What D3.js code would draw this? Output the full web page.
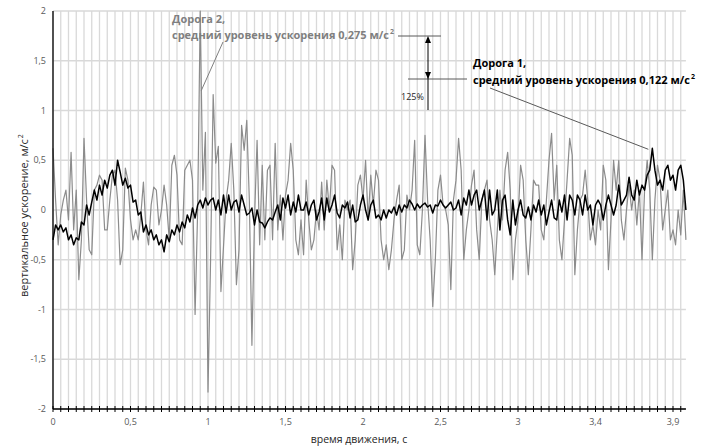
<!DOCTYPE html>
<html>
<head>
<meta charset="utf-8">
<script src="https://cdn.jsdelivr.net/npm/d3@7"></script>
<style>
  body { margin: 0; background: #fff; }
  text { font-family: "Open Sans", sans-serif; }
</style>
</head>
<body>
<svg width="702" height="447"></svg>
<script>
// x axis category labels (one every 30 samples), y ticks
const xLabels = ["0", "0,5", "1", "1,5", "2", "2,5", "3", "3,4", "3,9"];
const yTicks = [-2, -1.5, -1, -0.5, 0, 0.5, 1, 1.5, 2];

// Дорога 1 (black)
const road1 = [
  -0.3, -0.15, -0.2, -0.15, -0.22, -0.18, -0.3, -0.25, -0.35, -0.28,
  -0.3, -0.12, -0.15, 0.05, -0.05, 0.08, 0.2, 0.1, 0.25, 0.15,
  0.3, 0.22, 0.35, 0.4, 0.25, 0.5, 0.38, 0.25, 0.32, 0.22,
  0.25, 0.08, 0.1, -0.05, -0.02, -0.22, -0.15, -0.25, -0.2, -0.3,
  -0.25, -0.35, -0.3, -0.42, -0.25, -0.32, -0.2, -0.25, -0.15, -0.22,
  -0.12, -0.18, -0.05, -0.12, 0.02, -0.08, 0.05, 0.1, 0.02, 0.12,
  0.05, 0.1, 0.12, 0.0, 0.1, -0.05, 0.15, -0.03, 0.15, 0.0,
  0.08, 0.1, -0.02, 0.15, 0.05, -0.05, -0.03, 0.02, -0.15, 0.0,
  -0.12, -0.13, -0.18, -0.12, -0.08, -0.1, -0.02, 0.05, -0.1, 0.12,
  0.02, 0.15, -0.05, 0.08, -0.02, 0.15, 0.0, 0.0, 0.08, -0.05,
  0.05, 0.1, -0.1, -0.02, 0.12, -0.1, 0.12, -0.02, 0.05, 0.15,
  -0.03, -0.08, 0.05, 0.02, 0.08, -0.08, 0.05, -0.12, -0.1, 0.05,
  0.15, 0.0, -0.1, 0.05, 0.1, -0.08, -0.05, -0.1, 0.0, -0.08,
  0.0, -0.03, 0.03, -0.05, 0.05, -0.02, 0.05, 0.02, 0.1, 0.06,
  0.0, 0.06, 0.02, 0.05, 0.07, 0.03, 0.05, -0.03, 0.05, 0.04,
  0.1, 0.05, 0.02, 0.05, 0.08, 0.0, 0.02, 0.1, -0.05, 0.12,
  0.05, 0.2, 0.05, 0.15, 0.2, 0.0, 0.1, 0.2, -0.1, 0.2,
  -0.05, 0.0, 0.2, -0.2, 0.1, 0.15, -0.1, -0.25, 0.1, -0.15,
  0.0, 0.1, -0.05, -0.08, 0.03, -0.1, 0.05, -0.02, 0.1, -0.05,
  0.05, -0.15, -0.02, 0.1, -0.08, -0.1, 0.1, -0.02, 0.15, -0.1,
  0.15, 0.1, -0.05, 0.15, 0.1, -0.05, 0.15, 0.0, 0.05, -0.15,
  0.05, 0.1, 0.05, -0.1, 0.05, 0.15, 0.05, -0.05, 0.05, 0.25,
  0.05, 0.1, 0.15, 0.33, 0.15, 0.1, 0.3, 0.15, 0.25, 0.2,
  0.35, 0.4, 0.62, 0.4, 0.25, 0.3, 0.2, 0.4, 0.45, 0.3,
  0.35, 0.2, 0.4, 0.45, 0.3, 0.0
];

// Дорога 2 (grey)
const road2 = [
  0.62, 0.1, -0.35, -0.05, 0.1, 0.2, -0.1, 0.58, -0.2, 0.2,
  -0.7, -0.3, 0.72, 0.1, -0.4, -0.45, 0.2, 0.25, 0.35, 0.3,
  -0.2, -0.2, 0.1, 0.35, 0.4, 0.1, -0.55, -0.4, 0.42, 0.3,
  -0.1, -0.3, -0.2, -0.3, -0.05, 0.28, -0.2, -0.35, 0.05, 0.23,
  0.2, -0.15, 0.0, 0.25, 0.05, -0.3, 0.45, 0.55, 0.35, -0.3,
  -0.35, 0.4, 0.45, 0.5, 0.3, -1.05, 0.0, 2.0, 0.2, 0.78,
  -1.83, -0.5, 1.16, 0.47, 0.64, -0.82, -0.37, 0.1, 0.3, 0.67,
  0.2, -0.75, -0.4, 0.85, 0.6, 0.9, 0.1, -1.36, -0.1, 0.7,
  -0.35, 0.45, -0.3, 0.4, 0.45, -0.3, 0.67, -0.2, 0.15, -0.3,
  0.15, 0.3, 0.67, 0.4, -0.3, -0.45, -0.1, -0.45, 0.3, -0.1,
  -0.4, -0.3, 0.0, -0.2, 0.28, -0.2, 0.3, 0.0, 0.45, 0.4,
  -0.4, -0.15, -0.5, 0.1, 0.0, 0.1, -0.6, -0.3, 0.25, 0.35,
  0.1, 0.5, -0.1, 0.35, 0.05, 0.4, 0.3, -0.3, -0.5, -0.35,
  -0.6, -0.4, -0.1, 0.1, 0.25, -0.5, -0.4, 0.15, 0.0, 0.2,
  0.7, -0.35, -0.45, 0.0, 0.75, 0.1, -0.3, -0.97, -0.5, 0.2,
  0.35, 0.05, 0.0, -0.15, -0.8, 0.1, 0.3, 0.72, 0.4, -0.5,
  -0.2, 0.0, 0.25, 0.4, -0.2, -0.5, 0.1, 0.2, 0.3, -0.1,
  -0.3, -0.65, -0.2, 0.2, -0.1, 0.4, 0.58, 0.2, -0.7, -0.3,
  -0.1, 0.45, 0.3, -0.3, -0.65, -0.2, 0.3, 0.25, 0.25, -0.2,
  -0.3, 0.1, 0.5, 0.77, 0.1, 0.45, -0.3, -0.5, -0.1, 0.3,
  0.72, 0.55, -0.65, -0.2, 0.1, 0.15, 0.4, 0.1, -0.3, -0.15,
  -0.35, 0.0, -0.2, 0.45, 0.3, -0.6, -0.1, 0.5, 0.2, 0.5,
  -0.1, -0.3, 0.0, 0.25, 0.0, 0.2, -0.15, 0.2, -0.5, 0.2,
  0.5, 0.2, -0.5, 0.1, 0.45, 0.3, -0.2, 0.0, 0.2, -0.3,
  -0.2, -0.35, 0.0, -0.25, 0.2, -0.3
];

const svg = d3.select("svg");
const n = road1.length;

// sample index -> px, label every 30 samples, gridline every 3
const x = d3.scaleLinear().domain([0, 240]).range([53, 673]);
const y = d3.scaleLinear().domain([-2, 2]).range([409, 11]);
const xEnd = x(n - 1);

const gridIdx = d3.range(0, n, 3);

// grid
svg.append("g").selectAll("line").data(gridIdx).enter().append("line")
  .attr("x1", d => x(d)).attr("x2", d => x(d))
  .attr("y1", y(2)).attr("y2", y(-2))
  .attr("stroke", "#d9d9d9").attr("stroke-width", 1.3);

svg.append("g").selectAll("line").data(yTicks).enter().append("line")
  .attr("x1", x(0)).attr("x2", xEnd)
  .attr("y1", d => y(d)).attr("y2", d => y(d))
  .attr("stroke", "#d9d9d9").attr("stroke-width", 1.3);

// series
const line = d3.line().x((d, i) => x(i)).y(d => y(d));
svg.append("path").datum(road2).attr("d", line)
  .attr("fill", "none").attr("stroke", "#8c8c8c").attr("stroke-width", 1.2)
  .attr("stroke-linejoin", "round");
svg.append("path").datum(road1).attr("d", line)
  .attr("fill", "none").attr("stroke", "#000").attr("stroke-width", 1.5)
  .attr("stroke-linejoin", "round");

// axes
svg.append("line").attr("x1", x(0)).attr("x2", x(0)).attr("y1", y(2)).attr("y2", y(-2))
  .attr("stroke", "#000").attr("stroke-width", 1.3);
svg.append("line").attr("x1", x(0)).attr("x2", xEnd).attr("y1", y(-2)).attr("y2", y(-2))
  .attr("stroke", "#000").attr("stroke-width", 1.3);
svg.append("g").selectAll("line").data(gridIdx).enter().append("line")
  .attr("x1", d => x(d)).attr("x2", d => x(d))
  .attr("y1", y(-2) - 3).attr("y2", y(-2) + 3)
  .attr("stroke", "#000").attr("stroke-width", 1);

svg.append("g").selectAll("text").data(yTicks).enter().append("text")
  .attr("x", 46).attr("y", d => y(d) + 3)
  .attr("text-anchor", "end").attr("font-size", 9).attr("fill", "#595959")
  .text(d => String(d).replace(".", ","));

svg.append("g").selectAll("text").data(xLabels).enter().append("text")
  .attr("x", (d, i) => x(i * 30)).attr("y", 425)
  .attr("text-anchor", "middle").attr("font-size", 9).attr("fill", "#595959")
  .text(d => d);

// text + superscript "2" placed right after it
function withSup(g, tx, ty, str, supSize) {
  const t = g.append("text").attr("x", tx).attr("y", ty).text(str);
  const w = t.node().getComputedTextLength();
  g.append("text").attr("x", tx + w + 1).attr("y", ty - 5).attr("font-size", supSize).text("2");
  return t;
}

// axis titles
svg.append("text").attr("x", 359).attr("y", 443).attr("font-size", 10.5)
  .attr("text-anchor", "middle").attr("fill", "#262626")
  .text("время движения, с");

const yt = svg.append("g").attr("transform", "translate(28,297) rotate(-90)")
  .attr("fill", "#262626").attr("font-size", 11);
withSup(yt, 0, 0, "вертикальное ускорение, м/с", 7);

// annotation: Дорога 2
const g2 = svg.append("g").attr("fill", "#7f7f7f")
  .attr("font-weight", "bold").attr("font-size", 11);
g2.append("text").attr("x", 172).attr("y", 23).text("Дорога 2,");
withSup(g2, 172, 39, "средний уровень ускорения 0,275 м/с", 7);
svg.append("line").attr("x1", 223).attr("y1", 42).attr("x2", x(57) + 1).attr("y2", y(1.2))
  .attr("stroke", "#7f7f7f").attr("stroke-width", 1);

// annotation: Дорога 1
const g1 = svg.append("g").attr("fill", "#000")
  .attr("font-weight", "bold").attr("font-size", 11);
g1.append("text").attr("x", 473).attr("y", 67).text("Дорога 1,");
withSup(g1, 473, 84, "средний уровень ускорения 0,122 м/с", 7);
svg.append("line").attr("x1", 490).attr("y1", 88).attr("x2", x(232) - 4).attr("y2", y(0.62) + 1)
  .attr("stroke", "#595959").attr("stroke-width", 1);

// 125% arrow
const ga = svg.append("g").attr("stroke", "#595959").attr("stroke-width", 1);
ga.append("line").attr("x1", 398).attr("x2", 441).attr("y1", 36).attr("y2", 36);
ga.append("line").attr("x1", 408).attr("x2", 467).attr("y1", 79).attr("y2", 79);
ga.append("line").attr("x1", 428).attr("x2", 428).attr("y1", 38).attr("y2", 110).attr("stroke", "#000");
svg.append("path").attr("d", "M428,36 L425,43 L431,43 Z").attr("fill", "#000");
svg.append("path").attr("d", "M428,79 L425,72 L431,72 Z").attr("fill", "#000");
svg.append("text").attr("x", 401).attr("y", 100).attr("font-size", 9).attr("fill", "#262626").text("125%");
</script>
</body>
</html>
